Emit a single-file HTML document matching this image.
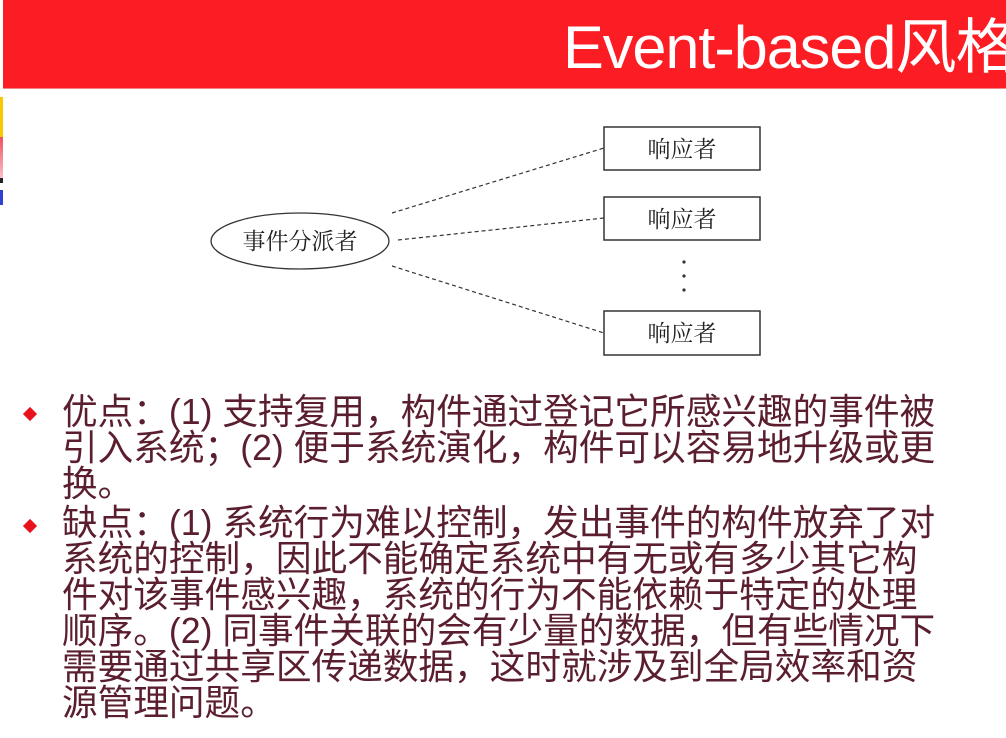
<!DOCTYPE html>
<html><head><meta charset="utf-8"><style>
body{margin:0;width:1006px;height:738px;background:#fff;position:relative;overflow:hidden;font-family:"Liberation Sans","Noto Sans CJK SC",sans-serif}
.hdr{position:absolute;left:3px;top:0;width:1003px;height:88px;background:#fc1c24;border-bottom:1px solid #e88;overflow:hidden}
.ttl{position:absolute;left:560px;top:-1px;color:#fff;font-size:60px;white-space:nowrap;letter-spacing:-1px;transform:scaleX(1.02);transform-origin:0 0}
.bar{position:absolute;left:0;width:3px}
.t{position:absolute;left:62px;color:#5a1e2e;font-size:36px;line-height:36px;white-space:nowrap;transform:scaleX(0.99);transform-origin:0 0}
.d{position:absolute;left:25px;width:10px;height:10px;background:#e8121c;transform:rotate(45deg)}
</style></head><body>
<div class="hdr"><div class="ttl">Event-based风格</div></div>
<div class="bar" style="top:97px;height:40px;background:#f8c800"></div>
<div class="bar" style="top:137px;height:41px;background:linear-gradient(#f05060,#f8c0c8)"></div>
<div class="bar" style="top:178px;height:5px;background:#222"></div>
<div class="bar" style="top:190px;height:15px;background:#3040d0"></div>
<svg style="position:absolute;left:0;top:0" width="1006" height="380" font-family="Noto Serif CJK SC,serif" font-size="23" fill="#222">
<g stroke="#333" stroke-dasharray="4,3" stroke-width="1.2">
<line x1="392" y1="213" x2="604" y2="148"/>
<line x1="398" y1="240" x2="604" y2="218"/>
<line x1="392" y1="266" x2="604" y2="333"/>
</g>
<ellipse cx="300" cy="241" rx="89" ry="28" fill="#fff" stroke="#333" stroke-width="1.3"/>
<text x="300" y="249" text-anchor="middle">事件分派者</text>
<g fill="#fff" stroke="#333" stroke-width="1.5">
<rect x="604" y="127" width="156" height="43"/><rect x="604" y="197" width="156" height="43"/><rect x="604" y="311" width="156" height="44"/>
</g>
<text x="682" y="157" text-anchor="middle">响应者</text>
<text x="682" y="227" text-anchor="middle">响应者</text>
<text x="682" y="341" text-anchor="middle">响应者</text>
<g fill="#333"><circle cx="684" cy="262" r="1.6"/><circle cx="684" cy="276" r="1.6"/><circle cx="684" cy="290" r="1.6"/></g>
</svg>
<div class="d" style="top:409px"></div>
<div class="d" style="top:521px"></div>
<div class="t" style="top:394px">优点：(1) 支持复用，构件通过登记它所感兴趣的事件被</div>
<div class="t" style="top:430px">引入系统；(2) 便于系统演化，构件可以容易地升级或更</div>
<div class="t" style="top:466px">换。</div>
<div class="t" style="top:505px">缺点：(1) 系统行为难以控制，发出事件的构件放弃了对</div>
<div class="t" style="top:541px">系统的控制，因此不能确定系统中有无或有多少其它构</div>
<div class="t" style="top:577px">件对该事件感兴趣，系统的行为不能依赖于特定的处理</div>
<div class="t" style="top:613px">顺序。(2) 同事件关联的会有少量的数据，但有些情况下</div>
<div class="t" style="top:649px">需要通过共享区传递数据，这时就涉及到全局效率和资</div>
<div class="t" style="top:685px">源管理问题。</div>
</body></html>
